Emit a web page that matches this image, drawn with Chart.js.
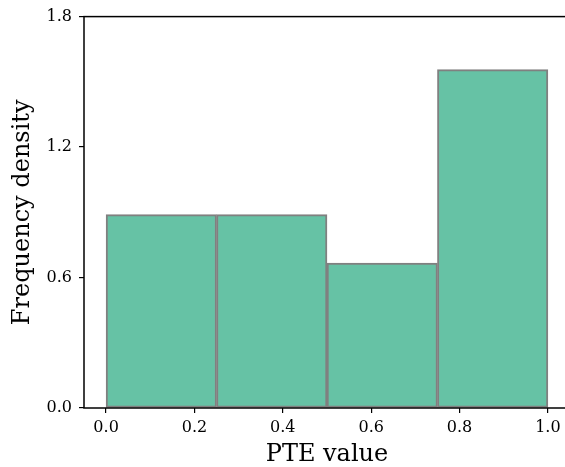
<!DOCTYPE html>
<html>
<head>
<meta charset="utf-8">
<script src="https://cdn.jsdelivr.net/npm/chart.js@4.4.1/dist/chart.umd.min.js"></script>
<style>
  html, body { margin: 0; padding: 0; background: #fff; overflow: hidden; }
  #wrap { width: 580px; height: 467px; }
</style>
</head>
<body>
<div id="wrap"><canvas id="c" width="580" height="467"></canvas></div>
<script>
// histogram bins (centres) and frequency densities
const binCenters = [0.125, 0.375, 0.625, 0.875];
const densities = [0.889, 0.889, 0.667, 1.556];
const xTicks = [0.0, 0.2, 0.4, 0.6, 0.8, 1.0];
const yTicks = [0.0, 0.6, 1.2, 1.8];

const serif = "'DejaVu Serif', 'Liberation Serif', serif";

// matplotlib-style box around the plot
const frame = {
  id: 'frame',
  afterDatasetsDraw(chart) {
    const a = chart.chartArea;
    const ctx = chart.ctx;
    ctx.save();
    ctx.strokeStyle = '#000';
    ctx.lineWidth = 1.5;
    ctx.strokeRect(a.left, a.top, a.right - a.left, a.bottom - a.top);
    ctx.restore();
  }
};

new Chart(document.getElementById('c'), {
  type: 'bar',
  data: {
    datasets: [{
      data: binCenters.map((x, i) => ({ x: x, y: densities[i] })),
      backgroundColor: '#66c2a5',
      borderColor: '#808080',
      borderWidth: 2,
      barThickness: 'flex',
      barPercentage: 1.0,
      categoryPercentage: 1.0,
      borderSkipped: false
    }]
  },
  options: {
    responsive: false,
    animation: false,
    layout: { padding: { top: 15, right: 10, left: 0, bottom: 0 } },
    plugins: { legend: { display: false }, tooltip: { enabled: false } },
    scales: {
      x: {
        type: 'linear',
        offset: false,
        min: -0.05,
        max: 1.05,
        afterBuildTicks: s => { s.ticks = xTicks.map(v => ({ value: v })); },
        afterFit: s => { s.height = 59; },
        grid: { offset: false, drawOnChartArea: false, tickLength: 5, color: '#000', lineWidth: 1.2 },
        border: { display: false },
        ticks: {
          color: '#000',
          padding: 5,
          maxRotation: 0,
          font: { family: serif, size: 16 },
          callback: v => v.toFixed(1)
        },
        title: {
          display: true,
          text: 'PTE value',
          color: '#000',
          padding: { top: 0, bottom: 0 },
          font: { family: serif, size: 24, lineHeight: 1 }
        }
      },
      y: {
        min: 0,
        max: 1.8,
        afterBuildTicks: s => { s.ticks = yTicks.map(v => ({ value: v })); },
        afterFit: s => { s.width = 84; },
        grid: { drawOnChartArea: false, tickLength: 5, color: '#000', lineWidth: 1.2 },
        border: { display: false },
        ticks: {
          color: '#000',
          padding: 7,
          font: { family: serif, size: 16 },
          callback: v => v.toFixed(1)
        },
        title: {
          display: true,
          text: 'Frequency density',
          color: '#000',
          padding: { top: 11, bottom: 0 },
          font: { family: serif, size: 24, lineHeight: 1 }
        }
      }
    }
  },
  plugins: [frame]
});
</script>
</body>
</html>
